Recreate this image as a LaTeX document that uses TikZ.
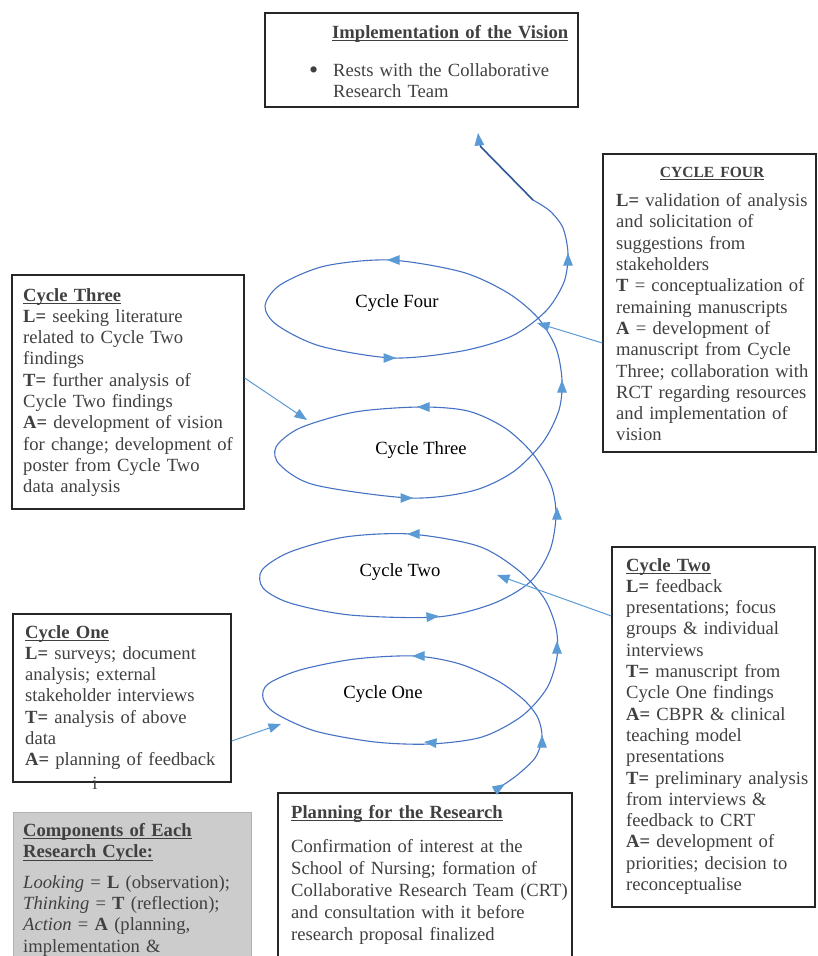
\documentclass[tikz,border=0pt]{standalone}
\usepackage{fontspec}
\setmainfont{Liberation Serif}
\usetikzlibrary{positioning,calc,arrows.meta}

\definecolor{spiralblue}{RGB}{70,114,196}
\definecolor{tipblue}{RGB}{91,155,213}
\definecolor{exitblue}{RGB}{47,85,151}
\definecolor{bodygray}{RGB}{64,64,64}
\newcommand\boxfont{\fontsize{18.6}{21.3}\selectfont}
\newcommand\headfont{\fontsize{15.5}{21.3}\selectfont}
\newsavebox\headbox
\newcommand\uhead[1]{\leavevmode\sbox\headbox{\textbf{#1}}%
    \vtop{\copy\headbox\kern-\dp\headbox\kern2.2pt\hrule height 1.1pt}}

\tikzset{
    notebox/.style={draw=black!85, line width=1.4pt, fill=white, inner sep=0pt, rectangle},
    notetext/.style={anchor=base west, inner sep=0pt, text width=#1, align=left, text=bodygray, font=\boxfont},
    notetext/.default=300pt,
    cyclelabel/.style={font=\boxfont, text=black, inner sep=0pt},
    spiral/.style={draw=spiralblue, line width=1.1pt},
    exitline/.style={draw=exitblue, line width=1.6pt},
    spiraltip/.style={draw=tipblue, line width=1pt, -{Triangle[length=12.5pt,width=9.5pt]}},
    link/.style={draw=tipblue, line width=1pt, -{Triangle[length=12.5pt,width=9.5pt]}}
}

\begin{document}
\begin{tikzpicture}[x=1pt, y=-1pt]
    \useasboundingbox (0,0) rectangle (817,956);
    \clip (0,0) rectangle (817,956);
    % Boxes
    \node[notebox, minimum width=313pt, minimum height=94pt] (visionbox) at (421.5,60) {};
    \node[notebox, minimum width=213pt, minimum height=298pt] (c4box) at (709.5,303) {};
    \node[notebox, minimum width=232pt, minimum height=234pt] (c3box) at (128,392) {};
    \node[notebox, minimum width=203pt, minimum height=360pt] (c2box) at (713.5,727) {};
    \node[notebox, minimum width=218pt, minimum height=168pt] (c1box) at (122,698) {};
    \node[notebox, draw=black!30, line width=1pt, fill=black!20, minimum width=238pt, minimum height=178pt] (keybox) at (132,901) {};
    \node[notebox, minimum width=294pt, minimum height=197pt] (planbox) at (425,891.5) {};
    % Box texts
    \node[notetext] (visiontext) at (332,38) {\uhead{Implementation of the Vision}\\[16.7pt]
        \hspace*{1pt}\llap{\raisebox{-2.5pt}{\fontsize{26}{26}\selectfont\textbullet}\hspace{15pt}}Rests with the Collaborative\\
        \hspace*{1pt}Research Team};
    \node[notetext] (c4text) at (616,177) {\makebox[192pt]{\headfont\uhead{CYCLE FOUR}}\\[8.3pt]
        \textbf{L=} validation of analysis\\
        and solicitation of\\
        suggestions from\\
        stakeholders\\
        \textbf{T} = conceptualization of\\
        remaining manuscripts\\
        \textbf{A} = development of\\
        manuscript from Cycle\\
        Three; collaboration with\\
        RCT regarding resources\\
        and implementation of\\
        vision};
    \node[notetext] (c3text) at (23,301) {\uhead{Cycle Three}\\
        \textbf{L=} seeking literature\\
        related to Cycle Two\\
        findings\\
        \textbf{T=} further analysis of\\
        Cycle Two findings\\
        \textbf{A=} development of vision\\
        for change; development of\\
        poster from Cycle Two\\
        data analysis};
    \node[notetext] (c2text) at (626,571) {\uhead{Cycle Two}\\
        \textbf{L=} feedback\\
        presentations; focus\\
        groups \& individual\\
        interviews\\
        \textbf{T=} manuscript from\\
        Cycle One findings\\
        \textbf{A=} CBPR \& clinical\\
        teaching model\\
        presentations\\
        \textbf{T=} preliminary analysis\\
        from interviews \&\\
        feedback to CRT\\
        \textbf{A=} development of\\
        priorities; decision to\\
        reconceptualise};
    \node[notetext] (c1text) at (25,638) {\uhead{Cycle One}\\
        \textbf{L=} surveys; document\\
        analysis; external\\
        stakeholder interviews\\
        \textbf{T=} analysis of above\\
        data\\
        \textbf{A=} planning of feedback};
    \node[font=\boxfont, text=bodygray, anchor=base, inner sep=0pt] (stray) at (95,789) {i};
    \node[notetext] (keytext) at (23,836) {\uhead{Components of Each}\\
        \uhead{Research Cycle:}\\[9.7pt]
        \textit{Looking} = \textbf{L} (observation);\\
        \textit{Thinking} = \textbf{T} (reflection);\\
        \textit{Action} = \textbf{A} (planning,\\
        implementation \&};
    \node[notetext, font=\fontsize{18.6}{22.2}\selectfont] (plantext) at (291,818) {\uhead{Planning for the Research}\\[11.8pt]
        Confirmation of interest at the\\
        School of Nursing; formation of\\
        Collaborative Research Team (CRT)\\
        and consultation with it before\\
        research proposal finalized};
    % Spiral
    \draw[spiral] plot[smooth] coordinates {
        (494,791) (516,776) (535,758) (542,738) (538,718) (524,700) (498,681) (460,664)
        (415,656) (355,659) (300,670) (268,684) (263,698) (275,713) (315,731) (375,742)
        (430,744) (482,737) (522,716) (547,688) (557,657) (556,628) (544,598) (518,570)
        (478,546) (410,534) (345,537) (290,552) (262,570) (263,588) (290,603) (350,615)
        (437,617) (492,604) (530,582) (550,550) (556,515) (551,485) (533,454) (505,428)
        (468,411) (420,407) (355,412) (300,428) (276,447) (280,465) (315,485) (410,498)
        (472,491) (513,472) (543,442) (559,410) (562,380) (556,348) (538,318) (508,293)
        (462,272) (390,260) (325,266) (280,285) (265,306) (277,325) (320,346) (393,358)
        (462,351) (512,336) (546,311) (564,282) (568,254) (563,228) (550,211) (533,200)};
    \draw[exitline] (533,200) -- (481,147) -- (479,141);
    % Arrow heads
    \foreach \ax/\ay/\bx/\by in {497/789/505/784, 542/746/542/735, 423/656/412/656,
        435/743/424/742, 557/652/557/641, 418/534/407/534, 428/617/439/616,
        557/518/557/507, 428/407/417/407, 402/498/413/498, 562/391/562/380,
        398/260/387/260, 385/358/396/358, 568/264/568/253, 479/142/478/133}
        \draw[spiraltip] (\ax,\ay) -- (\bx,\by);
    % Cycle labels
    \node[cyclelabel] (one) at (383,694) {Cycle One};
    \node[cyclelabel] (two) at (400,572) {Cycle Two};
    \node[cyclelabel] (three) at (421,450) {Cycle Three};
    \node[cyclelabel] (four) at (397,303) {Cycle Four};
    % Links
    \coordinate (c4hit) at (537,323);
    \coordinate (c3hit) at (307,420);
    \coordinate (c2hit) at (497,575);
    \coordinate (c1hit) at (281,724);
    \draw[link] ([yshift=-40pt]c4box.west) -- (c4hit);
    \draw[link] ([yshift=14pt]c3box.east) -- (c3hit);
    \draw[link] ([yshift=111pt]c2box.west) -- (c2hit);
    \draw[link] ([yshift=-43pt]c1box.east) -- (c1hit);
\end{tikzpicture}
\end{document}
